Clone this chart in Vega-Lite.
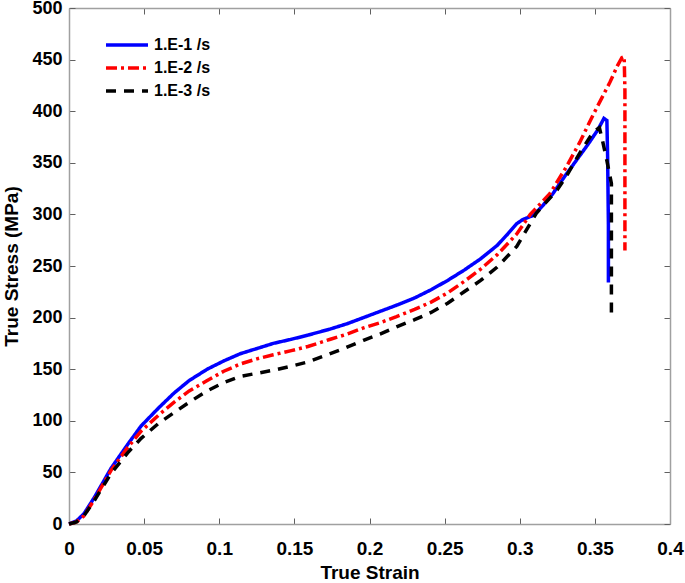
{
  "$schema": "https://vega.github.io/schema/vega-lite/v6.json",
  "width": 601,
  "height": 516,
  "autosize": {"type": "none"},
  "padding": {"left": 69, "top": 8, "right": 15, "bottom": 59},
  "background": "white",
  "config": {
    "view": {"stroke": null},
    "font": "Liberation Sans",
    "axis": {
      "grid": false,
      "domainColor": "#a0a0a0",
      "domainWidth": 1.5,
      "tickColor": "#606060",
      "tickSize": -6,
      "tickWidth": 1,
      "labelFont": "Liberation Sans",
      "labelFontWeight": "bold",
      "labelFontSize": 19,
      "labelColor": "black",
      "labelExpr": "'' + datum.value",
      "titleFont": "Liberation Sans",
      "titleFontWeight": "bold",
      "titleFontSize": 19,
      "titleColor": "black"
    }
  },
  "data": {
    "values": [
      {"s":"1.E-1 /s","i":0,"x":0,"y":0},
      {"s":"1.E-1 /s","i":1,"x":0.005,"y":3},
      {"s":"1.E-1 /s","i":2,"x":0.01,"y":10},
      {"s":"1.E-1 /s","i":3,"x":0.017,"y":26},
      {"s":"1.E-1 /s","i":4,"x":0.028,"y":54},
      {"s":"1.E-1 /s","i":5,"x":0.039,"y":77},
      {"s":"1.E-1 /s","i":6,"x":0.048,"y":95},
      {"s":"1.E-1 /s","i":7,"x":0.06,"y":113},
      {"s":"1.E-1 /s","i":8,"x":0.07,"y":127},
      {"s":"1.E-1 /s","i":9,"x":0.08,"y":139},
      {"s":"1.E-1 /s","i":10,"x":0.092,"y":150},
      {"s":"1.E-1 /s","i":11,"x":0.103,"y":158},
      {"s":"1.E-1 /s","i":12,"x":0.114,"y":165},
      {"s":"1.E-1 /s","i":13,"x":0.125,"y":170},
      {"s":"1.E-1 /s","i":14,"x":0.136,"y":175},
      {"s":"1.E-1 /s","i":15,"x":0.148,"y":179},
      {"s":"1.E-1 /s","i":16,"x":0.159,"y":183},
      {"s":"1.E-1 /s","i":17,"x":0.174,"y":189},
      {"s":"1.E-1 /s","i":18,"x":0.185,"y":194},
      {"s":"1.E-1 /s","i":19,"x":0.196,"y":200},
      {"s":"1.E-1 /s","i":20,"x":0.207,"y":206},
      {"s":"1.E-1 /s","i":21,"x":0.218,"y":212},
      {"s":"1.E-1 /s","i":22,"x":0.23,"y":219},
      {"s":"1.E-1 /s","i":23,"x":0.241,"y":227},
      {"s":"1.E-1 /s","i":24,"x":0.252,"y":236},
      {"s":"1.E-1 /s","i":25,"x":0.263,"y":246},
      {"s":"1.E-1 /s","i":26,"x":0.274,"y":257},
      {"s":"1.E-1 /s","i":27,"x":0.285,"y":270},
      {"s":"1.E-1 /s","i":28,"x":0.292,"y":281},
      {"s":"1.E-1 /s","i":29,"x":0.298,"y":291},
      {"s":"1.E-1 /s","i":30,"x":0.302,"y":295},
      {"s":"1.E-1 /s","i":31,"x":0.309,"y":299},
      {"s":"1.E-1 /s","i":32,"x":0.315,"y":308},
      {"s":"1.E-1 /s","i":33,"x":0.322,"y":320},
      {"s":"1.E-1 /s","i":34,"x":0.33,"y":337},
      {"s":"1.E-1 /s","i":35,"x":0.336,"y":349},
      {"s":"1.E-1 /s","i":36,"x":0.345,"y":367},
      {"s":"1.E-1 /s","i":37,"x":0.352,"y":382},
      {"s":"1.E-1 /s","i":38,"x":0.356,"y":393},
      {"s":"1.E-1 /s","i":39,"x":0.358,"y":391},
      {"s":"1.E-1 /s","i":40,"x":0.3585,"y":355},
      {"s":"1.E-1 /s","i":41,"x":0.359,"y":290},
      {"s":"1.E-1 /s","i":42,"x":0.359,"y":234},

      {"s":"1.E-2 /s","i":0,"x":0,"y":0},
      {"s":"1.E-2 /s","i":1,"x":0.005,"y":2},
      {"s":"1.E-2 /s","i":2,"x":0.01,"y":8},
      {"s":"1.E-2 /s","i":3,"x":0.017,"y":24},
      {"s":"1.E-2 /s","i":4,"x":0.028,"y":52},
      {"s":"1.E-2 /s","i":5,"x":0.039,"y":74},
      {"s":"1.E-2 /s","i":6,"x":0.048,"y":90},
      {"s":"1.E-2 /s","i":7,"x":0.06,"y":106},
      {"s":"1.E-2 /s","i":8,"x":0.07,"y":118},
      {"s":"1.E-2 /s","i":9,"x":0.08,"y":129},
      {"s":"1.E-2 /s","i":10,"x":0.092,"y":139},
      {"s":"1.E-2 /s","i":11,"x":0.103,"y":148},
      {"s":"1.E-2 /s","i":12,"x":0.114,"y":155},
      {"s":"1.E-2 /s","i":13,"x":0.125,"y":160},
      {"s":"1.E-2 /s","i":14,"x":0.136,"y":164},
      {"s":"1.E-2 /s","i":15,"x":0.148,"y":168},
      {"s":"1.E-2 /s","i":16,"x":0.159,"y":172},
      {"s":"1.E-2 /s","i":17,"x":0.174,"y":179},
      {"s":"1.E-2 /s","i":18,"x":0.185,"y":184},
      {"s":"1.E-2 /s","i":19,"x":0.196,"y":190},
      {"s":"1.E-2 /s","i":20,"x":0.207,"y":195},
      {"s":"1.E-2 /s","i":21,"x":0.218,"y":201},
      {"s":"1.E-2 /s","i":22,"x":0.23,"y":208},
      {"s":"1.E-2 /s","i":23,"x":0.241,"y":215},
      {"s":"1.E-2 /s","i":24,"x":0.252,"y":224},
      {"s":"1.E-2 /s","i":25,"x":0.263,"y":235},
      {"s":"1.E-2 /s","i":26,"x":0.274,"y":247},
      {"s":"1.E-2 /s","i":27,"x":0.285,"y":261},
      {"s":"1.E-2 /s","i":28,"x":0.298,"y":281},
      {"s":"1.E-2 /s","i":29,"x":0.307,"y":300},
      {"s":"1.E-2 /s","i":30,"x":0.32,"y":320},
      {"s":"1.E-2 /s","i":31,"x":0.331,"y":346},
      {"s":"1.E-2 /s","i":32,"x":0.34,"y":370},
      {"s":"1.E-2 /s","i":33,"x":0.349,"y":397},
      {"s":"1.E-2 /s","i":34,"x":0.36,"y":428},
      {"s":"1.E-2 /s","i":35,"x":0.365,"y":444},
      {"s":"1.E-2 /s","i":36,"x":0.368,"y":452},
      {"s":"1.E-2 /s","i":37,"x":0.3695,"y":453},
      {"s":"1.E-2 /s","i":38,"x":0.37,"y":420},
      {"s":"1.E-2 /s","i":39,"x":0.37,"y":265},

      {"s":"1.E-3 /s","i":0,"x":0,"y":0},
      {"s":"1.E-3 /s","i":1,"x":0.005,"y":2},
      {"s":"1.E-3 /s","i":2,"x":0.01,"y":8},
      {"s":"1.E-3 /s","i":3,"x":0.017,"y":23},
      {"s":"1.E-3 /s","i":4,"x":0.028,"y":49},
      {"s":"1.E-3 /s","i":5,"x":0.039,"y":69},
      {"s":"1.E-3 /s","i":6,"x":0.048,"y":83},
      {"s":"1.E-3 /s","i":7,"x":0.06,"y":98},
      {"s":"1.E-3 /s","i":8,"x":0.07,"y":108},
      {"s":"1.E-3 /s","i":9,"x":0.08,"y":118},
      {"s":"1.E-3 /s","i":10,"x":0.092,"y":129},
      {"s":"1.E-3 /s","i":11,"x":0.103,"y":137},
      {"s":"1.E-3 /s","i":12,"x":0.114,"y":143},
      {"s":"1.E-3 /s","i":13,"x":0.125,"y":146},
      {"s":"1.E-3 /s","i":14,"x":0.136,"y":149},
      {"s":"1.E-3 /s","i":15,"x":0.148,"y":153},
      {"s":"1.E-3 /s","i":16,"x":0.159,"y":157},
      {"s":"1.E-3 /s","i":17,"x":0.17,"y":163},
      {"s":"1.E-3 /s","i":18,"x":0.181,"y":169},
      {"s":"1.E-3 /s","i":19,"x":0.196,"y":178},
      {"s":"1.E-3 /s","i":20,"x":0.207,"y":184},
      {"s":"1.E-3 /s","i":21,"x":0.218,"y":191},
      {"s":"1.E-3 /s","i":22,"x":0.23,"y":198},
      {"s":"1.E-3 /s","i":23,"x":0.241,"y":205},
      {"s":"1.E-3 /s","i":24,"x":0.252,"y":214},
      {"s":"1.E-3 /s","i":25,"x":0.263,"y":225},
      {"s":"1.E-3 /s","i":26,"x":0.274,"y":236},
      {"s":"1.E-3 /s","i":27,"x":0.285,"y":249},
      {"s":"1.E-3 /s","i":28,"x":0.298,"y":269},
      {"s":"1.E-3 /s","i":29,"x":0.311,"y":301},
      {"s":"1.E-3 /s","i":30,"x":0.325,"y":324},
      {"s":"1.E-3 /s","i":31,"x":0.331,"y":337},
      {"s":"1.E-3 /s","i":32,"x":0.341,"y":362},
      {"s":"1.E-3 /s","i":33,"x":0.349,"y":380},
      {"s":"1.E-3 /s","i":34,"x":0.353,"y":384},
      {"s":"1.E-3 /s","i":35,"x":0.355,"y":372},
      {"s":"1.E-3 /s","i":36,"x":0.358,"y":352},
      {"s":"1.E-3 /s","i":37,"x":0.361,"y":330},
      {"s":"1.E-3 /s","i":38,"x":0.361,"y":200}
    ]
  },
  "layer": [
    {
      "mark": {"type": "line", "strokeWidth": 3.5, "strokeCap": "butt"},
      "encoding": {
        "x": {
          "field": "x", "type": "quantitative",
          "scale": {"domain": [0, 0.4], "nice": false, "zero": false},
          "axis": {"orient": "bottom", "values": [0,0.05,0.1,0.15,0.2,0.25,0.3,0.35,0.4], "title": "True Strain", "labelPadding": 21, "titlePadding": 5, "labelFlush": false}
        },
        "y": {
          "field": "y", "type": "quantitative",
          "scale": {"domain": [0, 500], "nice": false},
          "axis": {"orient": "left", "values": [0,50,100,150,200,250,300,350,400,450,500], "title": "True Stress (MPa)", "labelFontSize": 18, "labelPadding": 13, "titlePadding": 10}
        },
        "color": {
          "field": "s", "type": "nominal",
          "scale": {"domain": ["1.E-1 /s","1.E-2 /s","1.E-3 /s"], "range": ["#0000ff","#ff0000","#000000"]},
          "legend": {
            "title": null,
            "orient": "none",
            "legendX": 35,
            "legendY": 27,
            "symbolType": "stroke",
            "symbolSize": 1764,
            "symbolStrokeWidth": 3.5,
            "clipHeight": 20,
            "labelFont": "Liberation Sans",
            "labelFontWeight": "bold",
            "labelFontSize": 16,
            "labelColor": "black",
            "labelOffset": 4,
            "rowPadding": 3,
            "padding": 0
          }
        },
        "strokeDash": {
          "field": "s", "type": "nominal",
          "scale": {"domain": ["1.E-1 /s","1.E-2 /s","1.E-3 /s"], "range": [[1,0],[11,4,3,4],[10,8]]},
          "legend": null
        },
        "order": {"field": "i", "type": "quantitative"}
      }
    },
    {
      "mark": {"type": "line", "opacity": 0},
      "encoding": {
        "x": {
          "field": "x", "type": "quantitative",
          "axis": {"orient": "top", "values": [0,0.05,0.1,0.15,0.2,0.25,0.3,0.35,0.4], "labels": false, "title": null}
        },
        "y": {
          "field": "y", "type": "quantitative",
          "axis": {"orient": "right", "values": [0,50,100,150,200,250,300,350,400,450,500], "labels": false, "title": null}
        },
        "detail": {"field": "s", "type": "nominal"},
        "order": {"field": "i", "type": "quantitative"}
      }
    }
  ],
  "resolve": {"axis": {"x": "independent", "y": "independent"}}
}
